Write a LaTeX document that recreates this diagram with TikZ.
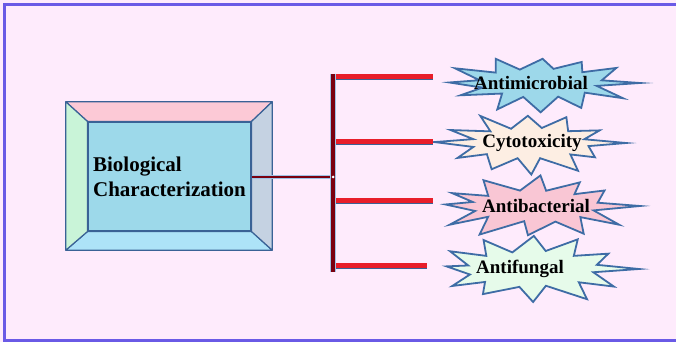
\documentclass[tikz,border=0pt]{standalone}
\usepackage{fontspec}
\setmainfont{Liberation Serif}
\usetikzlibrary{calc}
\definecolor{pagepink}{RGB}{254,235,252}
\definecolor{framepurple}{RGB}{106,90,230}
\definecolor{edgeblue}{RGB}{58,98,150}
\definecolor{facemid}{RGB}{157,217,234}
\definecolor{facetop}{RGB}{252,201,214}
\definecolor{faceleft}{RGB}{201,244,216}
\definecolor{faceright}{RGB}{197,210,226}
\definecolor{facebottom}{RGB}{173,227,248}
\definecolor{spinered}{RGB}{122,0,16}
\definecolor{branchred}{RGB}{232,30,42}
\definecolor{paleblue}{RGB}{158,195,230}
\definecolor{burstedge}{RGB}{62,108,165}
\definecolor{burstblue}{RGB}{157,216,234}
\definecolor{burstpeach}{RGB}{253,238,227}
\definecolor{burstpink}{RGB}{249,198,212}
\definecolor{burstgreen}{RGB}{230,251,234}

\begin{document}
\begin{tikzpicture}[
  x=1pt, y=1pt,
  face/.style={draw=edgeblue, line width=1.2pt, line join=round},
  burstline/.style={draw=burstedge, line width=1.8pt, line join=miter, miter limit=20},
  burstlabel/.style={inner sep=0pt, font=\fontsize{19}{22}\selectfont\bfseries},
  branch/.style={draw=edgeblue, double=branchred, double distance=5pt,
                 line width=0.8pt},
]
% page and border
\useasboundingbox (0,0) rectangle (676,342);
\fill[pagepink] (0,0) rectangle (676,342);
\draw[framepurple, line width=3pt] (690,337.5) -- (4.5,337.5) -- (4.5,1.5) -- (690,1.5);

% bevelled box
\node[draw=none, minimum width=206pt, minimum height=148pt, inner sep=0pt]
  (frame) at (169,166) {};
\node[face, fill=facemid, minimum width=163pt, minimum height=109pt, inner sep=5pt,
      align=left, font=\fontsize{21}{25}\selectfont\bfseries]
  (bio) at (169.5,165.5) {Biological\\Characterization};
\filldraw[face, fill=facetop] (frame.north west) -- (frame.north east)
  -- (bio.north east) -- (bio.north west) -- cycle;
\filldraw[face, fill=facebottom] (frame.south west) -- (frame.south east)
  -- (bio.south east) -- (bio.south west) -- cycle;
\filldraw[face, fill=faceleft] (frame.north west) -- (bio.north west)
  -- (bio.south west) -- (frame.south west) -- cycle;
\filldraw[face, fill=faceright] (frame.north east) -- (bio.north east)
  -- (bio.south east) -- (frame.south east) -- cycle;

% spiky labels: name/x/y/half width/half height/fill/text/text x/seed
\foreach \nm/\cx/\cy/\rx/\ry/\col/\txt/\tx/\sd in {
    s1/540/259/100/30/burstblue/Antimicrobial/531/3,
    s2/529/199/97/33/burstpeach/Cytotoxicity/532/7,
    s3/535/136/105/34/burstpink/Antibacterial/536/12,
    s4/532/73/107/38/burstgreen/Antifungal/520/21}
{
  \pgfmathsetseed{\sd}
  \draw[burstline, fill=\col] ($(\cx,\cy)+(0:{\rx} and {\ry})$)
    \foreach \k [evaluate=\k as \a using {\k*360/24+5*rand},
                 evaluate=\k as \r using {mod(\k,2)==0 ? 0.8+0.2*rnd : 0.58+0.05*rnd},
                 evaluate=\k as \q using {mod(\k,2)==0 ? \r : 0.78*\r}]
      in {1,...,23} { -- ($(\cx,\cy)+(\a:{\r*\rx} and {\q*\ry})$) } -- cycle;
  \node[burstlabel] (\nm) at (\tx,\cy) {\txt};
}

% spine and branches
\coordinate (hub) at (333,165);
\coordinate (top) at (333,268);
\coordinate (bot) at (333,70);
\coordinate (b1) at (433,265);
\coordinate (b2) at (433,200);
\coordinate (b3) at (433,141);
\coordinate (b4) at (427,76);

\draw[draw=paleblue, double=spinered, double distance=1.6pt, line width=1pt]
  (bio.east |- hub) -- (hub);
\draw[draw=paleblue, double=spinered, double distance=4pt, line width=1pt]
  (top) -- (bot);
\foreach \b in {b1,b2,b3,b4}
  \draw[branch] ([xshift=3pt]hub |- \b) -- (\b);
\fill[white] (hub) circle (1.5pt);
\end{tikzpicture}
\end{document}
